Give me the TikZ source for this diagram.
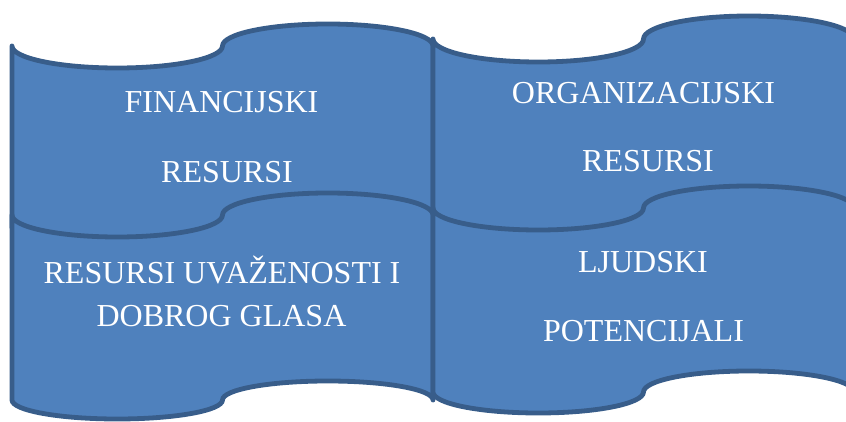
\documentclass[tikz,border=0pt]{standalone}
\usepackage{fontspec}
\setmainfont{Liberation Serif}
\definecolor{tapefill}{HTML}{4F81BD}
\definecolor{tapeline}{HTML}{385D8A}
% #1 left x, #2 width, #3 top corner Y, #4 top amplitude, #5 bottom corner Y, #6 bottom amplitude
\newcommand\tapeshape[6]{%
  \pgfmathsetmacro\tqw{#2/4}%
  \draw[tape] (#1,#3)
    arc[start angle=180,end angle=360,x radius=\tqw,y radius=#4]
    arc[start angle=180,end angle=0,x radius=\tqw,y radius=#4]
    -- ({#1+#2},#5)
    arc[start angle=0,end angle=180,x radius=\tqw,y radius=#6]
    arc[start angle=0,end angle=-180,x radius=\tqw,y radius=#6]
    -- cycle;}
\begin{document}
\begin{tikzpicture}[x=1pt,y=1pt,
  tape/.style={fill=tapefill,draw=tapeline,line width=4.8pt,line join=round},
  label/.style={text=white,inner sep=0pt,anchor=base,font=\fontsize{32}{38}\selectfont}]
\useasboundingbox (0,0) rectangle (846,421);
\begin{scope}
\clip (0,0) rectangle (846,421);
% top-left
\tapeshape{12}{421}{375}{22}{194}{22}
% top-right
\tapeshape{433}{421}{382}{23}{201}{22}
% bottom-left
\tapeshape{12}{421}{206}{22}{21}{19}
% bottom-right
\tapeshape{433}{421}{213}{22}{29}{21}
\end{scope}
\node[label] (fin1) at (221.5,308) {FINANCIJSKI};
\node[label] (fin2) at (227,238) {RESURSI};
\node[label] (org1) at (643.5,317) {ORGANIZACIJSKI};
\node[label] (org2) at (648,249) {RESURSI};
\node[label] (uva1) at (222,138) {RESURSI UVAŽENOSTI I};
\node[label] (uva2) at (221.5,95) {DOBROG GLASA};
\node[label] (lju1) at (643,149) {LJUDSKI};
\node[label] (lju2) at (643.5,80) {POTENCIJALI};
\end{tikzpicture}
\end{document}
